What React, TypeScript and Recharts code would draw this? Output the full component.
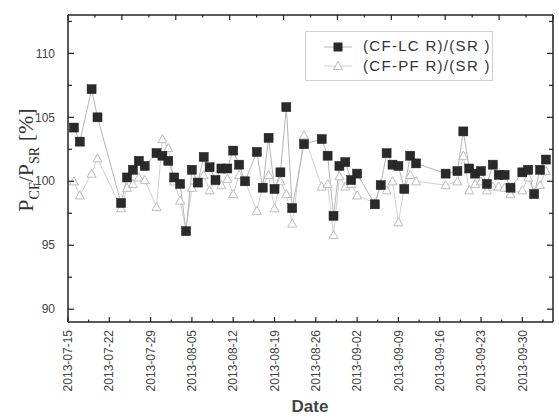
import React from "react";
import { LineChart, Line, XAxis, YAxis, Legend } from "recharts";

// day offsets from 2013-07-15
const days = [1, 2, 4, 5, 9, 10, 11, 12, 13, 15, 16, 17, 18, 19, 20, 21, 22, 23, 24, 25, 26, 27, 28, 29, 30, 32, 33, 34, 35, 36, 37, 38, 40, 43, 44, 45, 46, 47, 48, 49, 52, 53, 54, 55, 56, 57, 58, 59, 64, 66, 67, 68, 69, 70, 71, 72, 73, 74, 75, 77, 78, 79, 80, 81];

const lcr = [104.2, 103.1, 107.2, 105.0, 98.3, 100.3, 100.9, 101.6, 101.2, 102.2, 102.0, 101.6, 100.3, 99.8, 96.1, 100.9, 99.9, 101.9, 101.1, 100.1, 101.0, 101.0, 102.4, 101.3, 100.0, 102.3, 99.5, 103.4, 99.4, 100.7, 105.8, 97.9, 102.9, 103.3, 102.0, 97.3, 101.2, 101.5, 100.1, 100.6, 98.2, 99.7, 102.2, 101.3, 101.2, 99.4, 102.0, 101.4, 100.6, 100.8, 103.9, 101.0, 100.6, 100.8, 99.8, 101.3, 100.5, 100.5, 99.5, 100.7, 100.9, 99.0, 100.9, 101.7];

const pfr = [100.0, 98.9, 100.6, 101.8, 97.9, 99.5, 99.8, 100.3, 100.1, 98.0, 103.3, 102.6, 100.0, 98.5, 96.2, 99.5, 99.9, 100.5, 99.3, 100.0, 99.7, 100.2, 99.0, 100.5, 100.0, 97.7, 99.6, 100.5, 97.9, 100.0, 99.0, 96.7, 103.6, 99.6, 99.8, 95.8, 100.4, 99.6, 99.8, 98.9, 98.3, 99.8, 99.3, 100.0, 96.8, 99.5, 100.5, 100.0, 99.7, 100.0, 102.0, 99.3, 99.8, 100.0, 99.3, 99.6, 99.6, 99.5, 99.0, 99.3, 100.3, 99.1, 99.7, 100.8];

const majorTicks = [0, 7, 14, 21, 28, 35, 42, 49, 56, 63, 70, 77];
const tickLabels = ["2013-07-15", "2013-07-22", "2013-07-29", "2013-08-05", "2013-08-12", "2013-08-19", "2013-08-26", "2013-09-02", "2013-09-09", "2013-09-16", "2013-09-23", "2013-09-30"];
const minorXTicks = [3.5, 10.5, 17.5, 24.5, 31.5, 38.5, 45.5, 52.5, 59.5, 66.5, 73.5, 80.5];
const yTicks = [90, 95, 100, 105, 110];
const yMinorTicks = [92.5, 97.5, 102.5, 107.5, 112.5];

const seriesNames = ["(CF-LC R)/(SR )", "(CF-PF R)/(SR )"];

const data = days.map((d, i) => ({ day: d, lcr: lcr[i], pfr: pfr[i] }));

const allXTicks = [...majorTicks, ...minorXTicks].sort((a, b) => a - b);
const allYTicks = [...yTicks, ...yMinorTicks].sort((a, b) => a - b);

const X_DOMAIN = [0, 82.2];
const Y_DOMAIN = [89, 113];

const AXIS = "#222";
const FONT = "Arial, 'Liberation Sans', sans-serif";

const SquareDot = (props: any) => {
  const { cx, cy, index } = props;
  if (cx == null || cy == null) return <g key={"s" + index} />;
  return <rect key={"s" + index} x={cx - 4.5} y={cy - 4.5} width={9} height={9} fill="#2a2a2a" stroke="#1a1a1a" strokeWidth={0.5} />;
};

const TriDot = (props: any) => {
  const { cx, cy, index } = props;
  if (cx == null || cy == null) return <g key={"t" + index} />;
  const s = 4.5;
  return (
    <polygon
      key={"t" + index}
      points={`${cx},${cy - s} ${cx - s},${cy + s * 0.8} ${cx + s},${cy + s * 0.8}`}
      fill="white"
      stroke="#bdbdbd"
      strokeWidth={1}
    />
  );
};

// bottom axis: tick mark drawn inward + rotated label
const BottomTick = (props: any) => {
  const { x, y, payload } = props;
  const idx = majorTicks.indexOf(payload.value);
  const major = idx >= 0;
  const len = major ? 5 : 2.5;
  return (
    <g>
      <line x1={x} x2={x} y1={y} y2={y - len} stroke={AXIS} strokeWidth={1.2} />
      {major && (
        <text
          x={x}
          y={y + 8}
          transform={`rotate(-90, ${x}, ${y + 8})`}
          textAnchor="end"
          dy="0.35em"
          fontSize={12}
          fontFamily={FONT}
          fill="#444"
        >
          {tickLabels[idx]}
        </text>
      )}
    </g>
  );
};

const TopTick = (props: any) => {
  const { x, y, payload } = props;
  const major = majorTicks.indexOf(payload.value) >= 0;
  const len = major ? 5 : 2.5;
  return <line x1={x} x2={x} y1={y} y2={y + len} stroke={AXIS} strokeWidth={1.2} />;
};

const LeftTick = (props: any) => {
  const { x, y, payload } = props;
  const major = yTicks.indexOf(payload.value) >= 0;
  const len = major ? 6 : 4;
  return (
    <g>
      <line x1={x} x2={x + len} y1={y} y2={y} stroke={AXIS} strokeWidth={1.2} />
      {major && (
        <text x={x - 13} y={y} dy="0.35em" textAnchor="end" fontSize={12} fontFamily={FONT} fill="#444">
          {payload.value}
        </text>
      )}
    </g>
  );
};

const RightTick = (props: any) => {
  const { x, y, payload } = props;
  const major = yTicks.indexOf(payload.value) >= 0;
  const len = major ? 6 : 4;
  return <line x1={x} x2={x - len} y1={y} y2={y} stroke={AXIS} strokeWidth={1.2} />;
};

const LegendContent = () => (
  <div
    style={{
      border: "1px solid #cfcfcf",
      width: 188,
      height: 50,
      boxSizing: "border-box",
      background: "white",
      position: "relative",
      fontFamily: FONT,
      fontSize: 15,
      letterSpacing: 1.3,
      color: "#333",
    }}
  >
    <svg width={60} height={50} style={{ position: "absolute", left: 0, top: 0 }}>
      <line x1={18} x2={46} y1={15} y2={15} stroke="#b5b5b5" />
      <rect x={27.5} y={10.5} width={9} height={9} fill="#2a2a2a" />
      <line x1={18} x2={46} y1={34} y2={34} stroke="#d0d0d0" />
      <polygon points="32,29.5 27.5,37.6 36.5,37.6" fill="white" stroke="#bdbdbd" />
    </svg>
    <div style={{ position: "absolute", left: 57, top: 5, whiteSpace: "pre" }}>{seriesNames[0]}</div>
    <div style={{ position: "absolute", left: 57, top: 25, whiteSpace: "pre" }}>{seriesNames[1]}</div>
  </div>
);

export default function App() {
  return (
    <div style={{ position: "absolute", left: 0, top: 0, width: 559, height: 418, background: "white" }}>
      <LineChart width={559} height={418} data={data} margin={{ top: 15, right: 6, left: 28, bottom: 66 }}>
        <XAxis
          xAxisId="main"
          dataKey="day"
          type="number"
          domain={X_DOMAIN}
          allowDataOverflow
          ticks={allXTicks}
          interval={0}
          tickLine={false}
          tickSize={0}
          tickMargin={0}
          height={30}
          axisLine={{ stroke: AXIS, strokeWidth: 1.5 }}
          tick={<BottomTick />}
        />
        <XAxis
          xAxisId="top"
          orientation="top"
          type="number"
          domain={X_DOMAIN}
          allowDataOverflow
          mirror
          ticks={allXTicks}
          interval={0}
          tickLine={false}
          tickSize={0}
          tickMargin={0}
          axisLine={{ stroke: AXIS, strokeWidth: 1.5 }}
          tick={<TopTick />}
        />
        <YAxis
          yAxisId="main"
          type="number"
          domain={Y_DOMAIN}
          allowDataOverflow
          ticks={allYTicks}
          interval={0}
          width={40}
          tickLine={false}
          tickSize={0}
          tickMargin={0}
          axisLine={{ stroke: AXIS, strokeWidth: 1.5 }}
          tick={<LeftTick />}
        />
        <YAxis
          yAxisId="right"
          orientation="right"
          type="number"
          domain={Y_DOMAIN}
          allowDataOverflow
          mirror
          ticks={allYTicks}
          interval={0}
          tickLine={false}
          tickSize={0}
          tickMargin={0}
          axisLine={{ stroke: AXIS, strokeWidth: 1.5 }}
          tick={<RightTick />}
        />

        <Line
          xAxisId="main"
          yAxisId="main"
          dataKey="pfr"
          name={seriesNames[1]}
          stroke="#d0d0d0"
          strokeWidth={1}
          dot={TriDot}
          isAnimationActive={false}
        />
        <Line
          xAxisId="main"
          yAxisId="main"
          dataKey="lcr"
          name={seriesNames[0]}
          stroke="#b5b5b5"
          strokeWidth={1}
          dot={SquareDot}
          isAnimationActive={false}
        />
        <Legend
          layout="vertical"
          align="center"
          verticalAlign="middle"
          content={<LegendContent />}
          wrapperStyle={{ position: "absolute", left: 305, top: 31, width: 188, height: 50 }}
        />
      </LineChart>
      <svg width={50} height={418} style={{ position: "absolute", left: 0, top: 0 }}>
        <text
          transform="translate(33, 160) rotate(-90)"
          textAnchor="middle"
          fontFamily="'Liberation Serif', 'Times New Roman', serif"
          fontSize={22}
          fill="#333"
        >
          <tspan>P</tspan>
          <tspan fontSize={14} dy={6}>CF</tspan>
          <tspan dy={-6}>/P</tspan>
          <tspan fontSize={14} dy={6}>SR</tspan>
          <tspan dy={-6}> [%]</tspan>
        </text>
      </svg>
      <div
        style={{
          position: "absolute",
          left: 0,
          width: 620,
          top: 397,
          textAlign: "center",
          fontFamily: FONT,
          fontWeight: "bold",
          fontSize: 17,
          color: "#444",
        }}
      >
        Date
      </div>
    </div>
  );
}
